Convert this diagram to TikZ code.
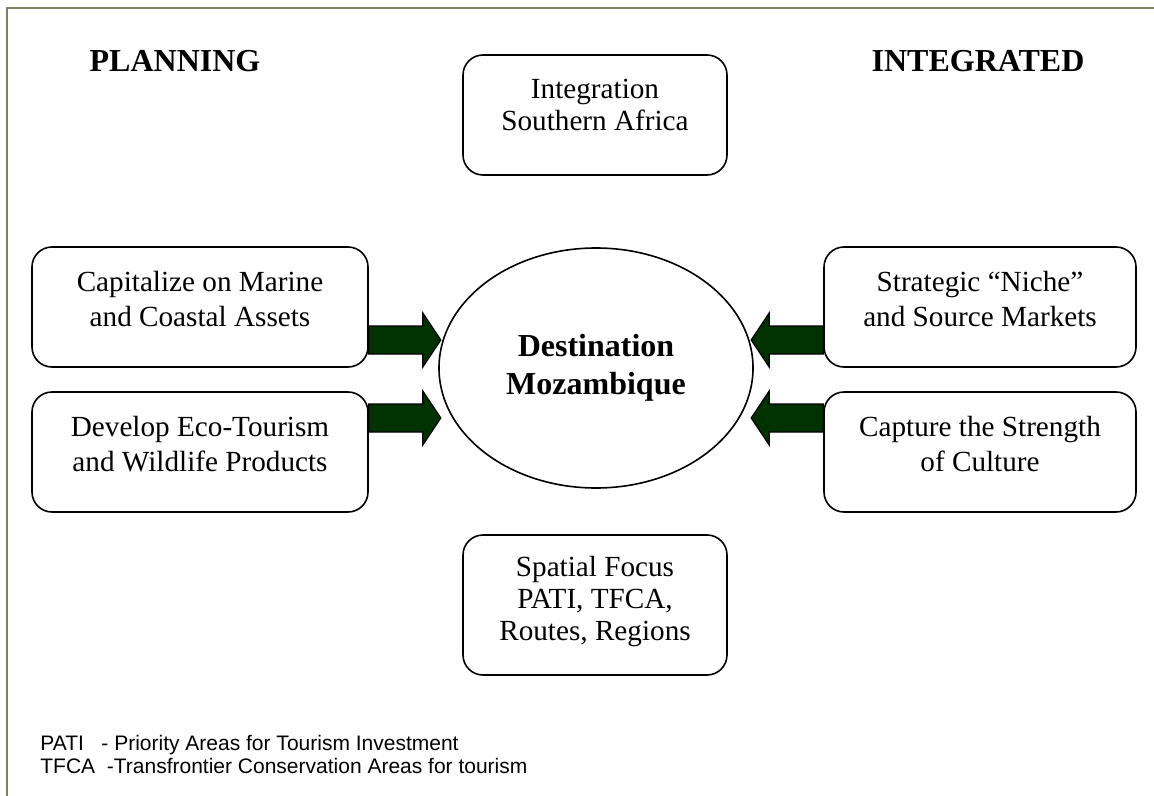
\documentclass[tikz,border=0pt]{standalone}
\usepackage{fontspec}
\setmainfont{Liberation Serif}
\setsansfont{Liberation Sans}
\usetikzlibrary{calc,shapes.geometric}

\definecolor{framegray}{RGB}{128,128,100}
\definecolor{arrowgreen}{RGB}{0,51,0}

\tikzset{
  goalbox/.style={draw, rounded corners=10pt, line width=0.8pt, align=center,
    minimum width=168pt, minimum height=60pt, text depth=8pt,
    font=\fontsize{14.6}{17.5}\selectfont},
  heading/.style={font=\fontsize{16}{19}\selectfont\bfseries},
  arrowbody/.style={draw, line width=0.6pt, fill=arrowgreen}
}

% block arrow: start point, direction (1 = right, -1 = left)
\newcommand{\blockarrow}[2]{%
  \draw[arrowbody] #1 ++(0,-14) -- ++(#2*54,0) -- ++(0,-13) -- ++(#2*18,27)
    -- ++(-#2*18,27) -- ++(0,-13) -- ++(-#2*54,0) -- cycle;}

\begin{document}
\begin{tikzpicture}[x=0.5pt,y=-0.5pt]
    \useasboundingbox (0,0) rectangle (1154,796);
    \draw[framegray, line width=0.8pt] (7,796) -- (7,8) -- (1154,8);

    \node[heading] (planning) at (175,61) {PLANNING};
    \node[heading] (integrated) at (978,61) {INTEGRATED};

    \node[goalbox, minimum width=132pt, text depth=10pt, font=\fontsize{14.6}{16}\selectfont]
      (africa) at (595,115) {Integration\\Southern Africa};
    \node[goalbox, minimum width=132pt, minimum height=70pt, text depth=7pt,
      font=\fontsize{14.6}{16}\selectfont] (spatial) at (595,605)
      {Spatial Focus\\PATI, TFCA,\\Routes, Regions};

    \node[goalbox] (marine) at (200,307) {Capitalize on Marine\\and Coastal Assets};
    \node[goalbox] (ecotour) at (200,452) {Develop Eco-Tourism\\and Wildlife Products};
    \node[goalbox, minimum width=156pt] (niche) at (980,307) {Strategic ``Niche''\\and Source Markets};
    \node[goalbox, minimum width=156pt] (culture) at (980,452) {Capture the Strength\\of Culture};

    \node[ellipse, draw, line width=0.8pt, minimum width=157pt, minimum height=120pt,
      inner sep=0pt, align=center, heading] (dest) at (596,368) {Destination\\Mozambique};

    \blockarrow{($(marine.east)+(0,33)$)}{1}
    \blockarrow{($(ecotour.east)+(0,-34)$)}{1}
    \blockarrow{($(niche.west)+(0,33)$)}{-1}
    \blockarrow{($(culture.west)+(0,-34)$)}{-1}

    \node[anchor=north west, align=left, inner sep=0pt,
      font=\sffamily\fontsize{10.5}{11.5}\selectfont] (legend) at (40,735)
      {PATI\ \ \ - Priority Areas for Tourism Investment\\
       TFCA\ \ -Transfrontier Conservation Areas for tourism};
\end{tikzpicture}
\end{document}
